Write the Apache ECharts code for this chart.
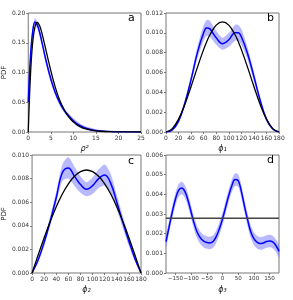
<!DOCTYPE html>
<html><head><meta charset="utf-8">
<script src="https://cdn.jsdelivr.net/npm/echarts@6/dist/echarts.min.js"></script>
<style>html,body{margin:0;padding:0;background:#fff}#c{width:293px;height:300px}</style>
</head><body><div id="c"></div>
<script>
// Panel a: rho^2
const aX = [0,0.5,1,1.5,2,2.5,3,4,5,6,7,8,9,10,11,12,13,14,15,16,18,20,22,25];
const aBlack = [0,0.097,0.152,0.177,0.184,0.179,0.167,0.135,0.103,0.075,0.053,0.037,0.025,0.017,0.011,0.007,0.005,0.003,0.002,0.0013,0.0006,0.0002,0.0001,0];
const aBlue = [0.05,0.128,0.170,0.185,0.180,0.168,0.152,0.118,0.089,0.066,0.049,0.036,0.027,0.019,0.013,0.009,0.006,0.004,0.0025,0.0016,0.0008,0.0003,0.0001,0];
const aErr = [0.01,0.008,0.007,0.006,0.006,0.006,0.006,0.006,0.006,0.005,0.005,0.004,0.004,0.004,0.004,0.003,0.003,0.003,0.002,0.0015,0.0008,0.0004,0.0001,0];
// Panel b: phi1
const bX = [0,10,20,30,40,50,60,65,70,80,90,100,110,115,120,130,140,150,160,170,180];
const bBlack = [0,0.00034,0.0013,0.00278,0.00459,0.00652,0.00833,0.00913,0.00981,0.01078,0.01111,0.01078,0.00981,0.00913,0.00833,0.00652,0.00459,0.00278,0.0013,0.00034,0];
const bBlue = [0,0.0002,0.0011,0.0029,0.0053,0.0080,0.0100,0.0105,0.0104,0.0095,0.0089,0.0093,0.0100,0.0100,0.0096,0.0079,0.0056,0.0032,0.0013,0.0003,0];
const bErr = [0,0.0001,0.0002,0.0003,0.0004,0.0006,0.0008,0.0008,0.0008,0.0007,0.0006,0.0007,0.0008,0.0008,0.0008,0.0006,0.0005,0.0003,0.0002,0.0001,0];
// Panel c: phi2
const cX = [0,10,20,30,40,50,60,70,80,90,100,110,120,130,140,150,160,170,180];
const cBlack = [0,0.00152,0.00299,0.00436,0.00561,0.00669,0.00756,0.00820,0.00859,0.00873,0.00859,0.00820,0.00756,0.00669,0.00561,0.00436,0.00299,0.00152,0];
const cBlue = [0,0.0011,0.0026,0.0044,0.0064,0.0085,0.0089,0.0082,0.0075,0.0071,0.0074,0.0080,0.0083,0.0076,0.0060,0.0043,0.0027,0.0012,0];
const cErr = [0,0.0002,0.0003,0.0004,0.0005,0.0007,0.0009,0.0008,0.0007,0.0006,0.0007,0.0008,0.0009,0.0008,0.0006,0.0005,0.0004,0.0002,0];
// Panel d: phi3
const dX = [-180,-170,-160,-150,-140,-130,-120,-110,-100,-90,-80,-70,-60,-50,-40,-30,-20,-10,0,10,20,30,40,50,60,70,80,90,100,110,120,130,140,150,160,170,180];
const dBlue = [0.00160,0.00235,0.00310,0.00375,0.00420,0.00432,0.00415,0.00370,0.00310,0.00250,0.00205,0.00178,0.00162,0.00155,0.00153,0.00160,0.00185,0.00225,0.00275,0.00335,0.00395,0.00445,0.00475,0.00470,0.00415,0.00340,0.00270,0.00210,0.00175,0.00157,0.00150,0.00153,0.00160,0.00163,0.00158,0.00140,0.00110];
const dErr = 0.00032;
const dBlackX = [-180,180];
const dBlackY = [0.00278,0.00278];
const dTicks = [-150,-100,-50,0,50,100,150];

const pairs = (xs, ys) => xs.map((x,i)=>[x,ys[i]]);
const errAt = (e,i) => Array.isArray(e) ? e[i] : e;

const grids = [
  {left:28, top:13, width:113, height:119},
  {left:166, top:13, width:113, height:119},
  {left:28, top:155, width:113, height:118},
  {left:166, top:155, width:113, height:118}
];
const gridOpts = grids.map(g=>Object.assign({show:true, borderColor:'#777', borderWidth:1, backgroundColor:'transparent'}, g));

const labelStyle = {fontSize:6, color:'#333', fontFamily:'DejaVu Sans', margin:3, hideOverlap:false, showMinLabel:true, showMaxLabel:true};
const tick = {show:true, inside:false, length:2, lineStyle:{color:'#777'}};
const minusFmt = v => String(v).replace('-', '\u2212');

function xAxis(i, min, max, interval, name, custom){
  const ax = {type:'value', gridIndex:i, min, max, interval,
    axisLine:{show:false, onZero:false}, splitLine:{show:false},
    axisTick: Object.assign({}, tick),
    axisLabel: Object.assign({}, labelStyle, {formatter: minusFmt}),
    name, nameLocation:'middle', nameGap:13,
    nameTextStyle:{fontSize:8, fontStyle:'italic', fontFamily:'DejaVu Sans', color:'#222'}};
  if (custom){ ax.axisTick.customValues = custom; ax.axisLabel.customValues = custom; ax.axisLabel.fontSize = 5.6; }
  return ax;
}
function yAxis(i, max, interval, dec, name){
  return {type:'value', gridIndex:i, min:0, max, interval,
    axisLine:{show:false, onZero:false}, splitLine:{show:false},
    axisTick: Object.assign({}, tick),
    axisLabel: Object.assign({}, labelStyle, {formatter: v=>v.toFixed(dec)}),
    name: name||'', nameLocation:'middle', nameGap:18, nameRotate:90,
    nameTextStyle:{fontSize:7, fontFamily:'DejaVu Sans', color:'#222'}};
}

const series = [];
function addPanel(i, xs, blue, err, blackX, black){
  const hi = xs.map((x,k)=>[x, blue[k]+errAt(err,k)]);
  const lo = xs.map((x,k)=>[x, blue[k]-errAt(err,k)]);
  series.push({type:'custom', coordinateSystem:'cartesian2d', xAxisIndex:i, yAxisIndex:i,
    data:[[xs[0], blue[0]]], silent:true, z:1,
    renderItem: function(params, api){
      const up = hi.map(p=>api.coord(p));
      const dn = lo.map(p=>api.coord(p)).reverse();
      return {type:'polygon', shape:{points:up.concat(dn), smooth:0.25},
         style:{fill:'rgba(80,80,255,0.40)', stroke:null}};
    }});
  series.push({type:'line', xAxisIndex:i, yAxisIndex:i, data:pairs(xs, blue), smooth:0.4, z:2,
    symbol:'none', lineStyle:{color:'#0000ff', width:1.5}});
  series.push({type:'line', xAxisIndex:i, yAxisIndex:i, data:pairs(blackX, black), smooth:0.4, z:3,
    symbol:'none', lineStyle:{color: i===3 ? '#444' : '#000', width: i===3 ? 1.5 : 1.3}});
}
addPanel(0, aX, aBlue, aErr, aX, aBlack);
addPanel(1, bX, bBlue, bErr, bX, bBlack);
addPanel(2, cX, cBlue, cErr, cX, cBlack);
addPanel(3, dX, dBlue, dErr, dBlackX, dBlackY);

const letterStyle = {fontSize:11, fontWeight:'normal', color:'#000', fontFamily:'DejaVu Sans'};
const option = {
  animation:false,
  grid: gridOpts,
  xAxis: [
    xAxis(0, 0, 25, 5, 'ρ²'),
    xAxis(1, 0, 180, 20, 'ϕ₁'),
    xAxis(2, 0, 180, 20, 'ϕ₂'),
    xAxis(3, -180, 180, null, 'ϕ₃', dTicks)
  ],
  yAxis: [
    yAxis(0, 0.20, 0.05, 2, 'PDF'),
    yAxis(1, 0.012, 0.002, 3),
    yAxis(2, 0.010, 0.002, 3, 'PDF'),
    yAxis(3, 0.006, 0.001, 3)
  ],
  title: [
    {text:'a', left:128, top:13, textStyle:letterStyle, padding:0},
    {text:'b', left:267, top:13, textStyle:letterStyle, padding:0},
    {text:'c', left:128, top:156, textStyle:letterStyle, padding:0},
    {text:'d', left:267, top:155, textStyle:letterStyle, padding:0}
  ],
  series
};
const chart = echarts.init(document.getElementById('c'), null, {renderer:'canvas'});
chart.setOption(option);
</script></body></html>
